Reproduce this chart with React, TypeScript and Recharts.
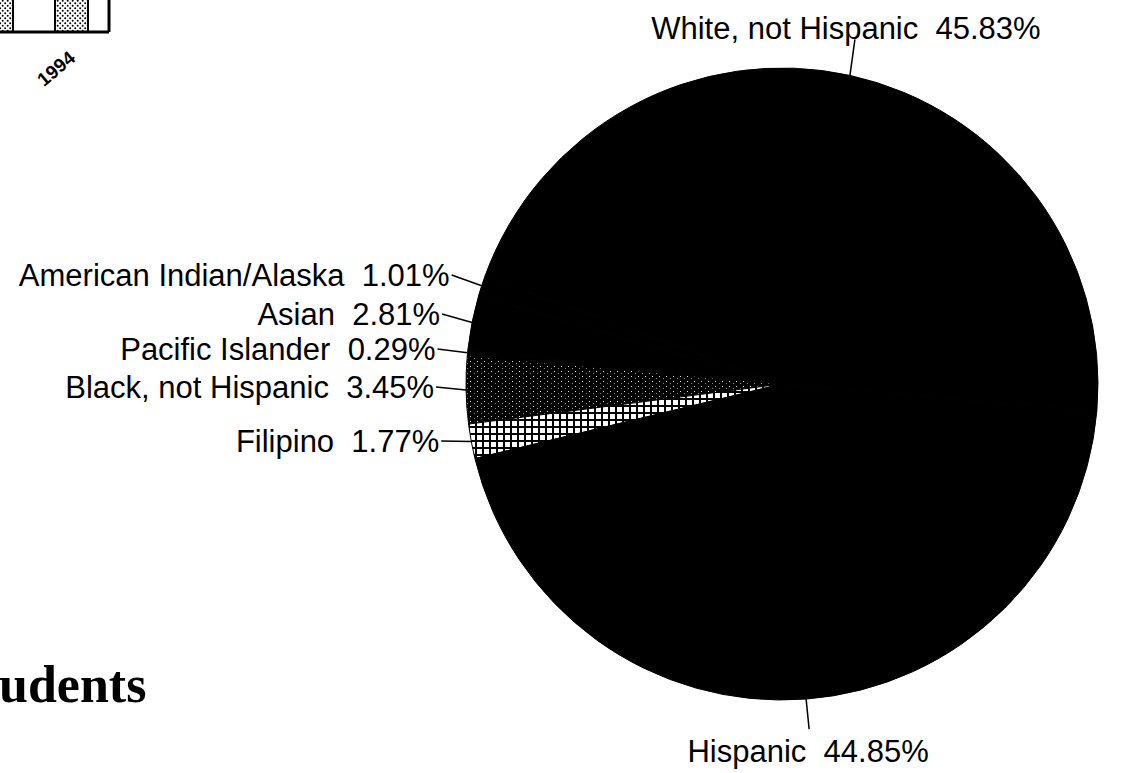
import React from 'react';
import { PieChart, Pie, Cell, BarChart, Bar, XAxis, YAxis } from 'recharts';

// pie slices, in drawing order (counter-clockwise from the right side)
const sliceNames = [
  'White, not Hispanic',
  'American Indian/Alaska',
  'Asian',
  'Pacific Islander',
  'Black, not Hispanic',
  'Filipino',
  'Hispanic',
];
const sliceValues = [45.83, 1.01, 2.81, 0.29, 3.45, 1.77, 44.85];
const sliceFills = [
  '#000',
  '#000',
  '#000',
  '#000',
  'url(#speckle)',
  'url(#grid)',
  '#000',
];

// bar chart fragment in the upper left corner (mostly cut off by the page)
const barYears = ['1991', '1992', '1993', '1994'];
const barValues = [92, 95, 97, 100];

// label layout for the stacked labels left of the pie
const leftLabelY: Record<string, number> = {
  'American Indian/Alaska': 275,
  Asian: 314,
  'Pacific Islander': 349,
  'Black, not Hispanic': 387,
  Filipino: 441,
};

const pieData = sliceNames.map((name, i) => ({ name, value: sliceValues[i] }));
const barData = barYears.map((year, i) => ({ year, value: barValues[i] }));

const RADIAN = Math.PI / 180;
const FONT = '"Liberation Sans", Arial, sans-serif';
const BAR_LEFT = -191;
const BAR_TOP = -108;

const renderPieLabel = (props: any) => {
  const { cx, cy, midAngle, outerRadius, index } = props;
  const name = sliceNames[index];
  const text = `${name}  ${sliceValues[index].toFixed(2)}%`;
  const ex = cx + outerRadius * Math.cos(-midAngle * RADIAN);
  const ey = cy + outerRadius * Math.sin(-midAngle * RADIAN);
  const common = {
    fontFamily: FONT,
    fontSize: 31,
    fill: '#000',
    style: { whiteSpace: 'pre' as const },
  };

  if (Math.sin(midAngle * RADIAN) > 0.9) {
    return (
      <g key={name}>
        <line x1={ex} y1={ey} x2={ex + 5} y2={ey - 36} stroke='#000' strokeWidth={1.5} />
        <text x={ex - 4} y={ey - 36} textAnchor='middle' {...common}>
          {text}
        </text>
      </g>
    );
  }
  if (Math.sin(midAngle * RADIAN) < -0.9) {
    return (
      <g key={name}>
        <line x1={ex} y1={ey} x2={ex + 3} y2={ey + 30} stroke='#000' strokeWidth={1.5} />
        <text x={ex + 2} y={ey + 63} textAnchor='middle' {...common}>
          {text}
        </text>
      </g>
    );
  }
  const ty = leftLabelY[name];
  return (
    <g key={name}>
      <line x1={ex} y1={ey} x2={ex - 30} y2={ty} stroke='#000' strokeWidth={1.5} />
      <text x={ex - 32} y={ty} textAnchor='end' dominantBaseline='central' {...common}>
        {text}
      </text>
    </g>
  );
};

const YearTick = (props: any) => {
  const { x, y, payload } = props;
  // labels that fall left of the page edge are not shown in the scan
  if (x + BAR_LEFT < 30) return null;
  return (
    <g transform={`translate(${x + 5},${y + 20})`}>
      <text
        x={0}
        y={0}
        textAnchor='end'
        transform='rotate(-40)'
        fontFamily={FONT}
        fontSize={19}
        fontWeight='bold'
        fill='#000'
      >
        {payload.value}
      </text>
    </g>
  );
};

export default function App() {
  return (
    <div
      style={{
        position: 'absolute',
        left: 0,
        top: 0,
        width: 1121,
        height: 773,
        overflow: 'hidden',
        background: '#fff',
      }}
    >
      <div style={{ position: 'absolute', left: BAR_LEFT, top: BAR_TOP }}>
        <BarChart
          width={303}
          height={200}
          data={barData}
          margin={{ top: 0, right: 0, left: 0, bottom: 0 }}
          barCategoryGap={21}
        >
          <defs>
            <pattern id='dots' width={5} height={5} patternUnits='userSpaceOnUse'>
              <rect width={5} height={5} fill='#fff' />
              <circle cx={1.2} cy={1.2} r={1} fill='#000' />
              <circle cx={3.7} cy={3.7} r={1} fill='#000' />
            </pattern>
          </defs>
          <XAxis
            dataKey='year'
            height={60}
            axisLine={{ stroke: '#000', strokeWidth: 3 }}
            tickLine={false}
            tick={<YearTick />}
            interval={0}
          />
          <YAxis
            orientation='right'
            width={3}
            domain={[0, 100]}
            tick={false}
            tickLine={false}
            axisLine={{ stroke: '#000', strokeWidth: 3 }}
          />
          <Bar
            dataKey='value'
            fill='url(#dots)'
            stroke='#000'
            strokeWidth={2}
            isAnimationActive={false}
          />
        </BarChart>
      </div>

      <div style={{ position: 'absolute', left: 0, top: 0 }}>
        <PieChart width={1121} height={773} margin={{ top: 0, right: 0, left: 0, bottom: 0 }}>
          <defs>
            <pattern id='speckle' width={7} height={5} patternUnits='userSpaceOnUse'>
              <rect width={7} height={5} fill='#000' />
              <rect x={1} y={1} width={1} height={1} fill='#ddd' />
              <rect x={5} y={3} width={1} height={1} fill='#888' />
            </pattern>
            <pattern id='grid' width={7} height={7} patternUnits='userSpaceOnUse'>
              <rect width={7} height={7} fill='#000' />
              <rect x={1} y={1} width={5} height={5} fill='#fff' />
            </pattern>
          </defs>
          <Pie
            data={pieData}
            dataKey='value'
            nameKey='name'
            cx={782}
            cy={384}
            outerRadius={316}
            startAngle={-4.9}
            endAngle={355.1}
            stroke='#000'
            strokeWidth={1}
            label={renderPieLabel}
            labelLine={false}
            isAnimationActive={false}
          >
            {pieData.map((d, i) => (
              <Cell key={d.name} fill={sliceFills[i]} />
            ))}
          </Pie>
          <text
            x={-1}
            y={702}
            fontFamily='"Liberation Serif", "Times New Roman", serif'
            fontWeight='bold'
            fontSize={52}
            fill='#000'
          >
            udents
          </text>
        </PieChart>
      </div>
    </div>
  );
}
